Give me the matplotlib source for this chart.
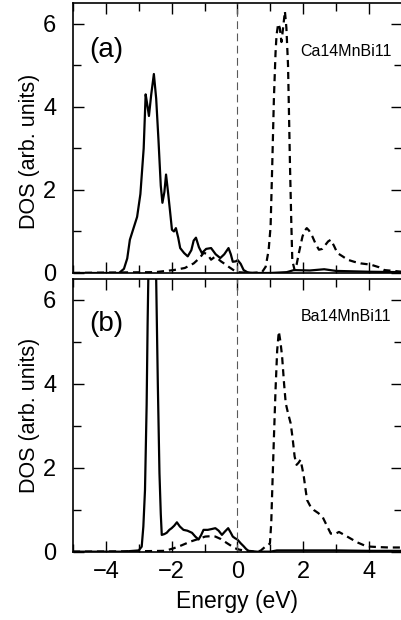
import numpy as np
import matplotlib.pyplot as plt
from matplotlib.ticker import MultipleLocator

plt.rcParams['font.family'] = ['Liberation Sans', 'DejaVu Sans']

# Ca14MnBi11: Mn d DOS, spin up (solid) and spin down (dashed)
ca_up_e = [-5.0, -3.6, -3.45, -3.35, -3.27, -3.15, -3.05, -2.95, -2.85, -2.79, -2.74, -2.69,
           -2.62, -2.54, -2.47, -2.40, -2.33, -2.28, -2.22, -2.17, -2.11, -2.05, -1.99, -1.93,
           -1.87, -1.80, -1.74, -1.62, -1.51, -1.40, -1.33, -1.26, -1.17, -1.08, -0.95, -0.80,
           -0.66, -0.52, -0.40, -0.27, -0.20, -0.14, -0.05, 0.01, 0.10, 0.19, 0.30, 0.45,
           1.0, 1.5, 1.72, 2.2, 2.64, 3.0, 4.0, 5.0]
ca_up_v = [0.0, 0.0, 0.1, 0.35, 0.8, 1.1, 1.35, 1.9, 3.0, 4.3, 4.05, 3.78,
           4.3, 4.79, 4.2, 3.2, 2.1, 1.69, 1.95, 2.37, 1.95, 1.5, 1.04, 1.0,
           1.08, 0.85, 0.6, 0.48, 0.40, 0.55, 0.78, 0.85, 0.62, 0.48, 0.58, 0.60,
           0.45, 0.36, 0.45, 0.60, 0.45, 0.27, 0.28, 0.31, 0.22, 0.07, 0.02, 0.0,
           0.0, 0.02, 0.07, 0.06, 0.09, 0.05, 0.03, 0.02]
ca_dn_e = [-5.0, -4.0, -2.5, -1.94, -1.6, -1.33, -1.15, -1.03, -0.95, -0.87, -0.80, -0.70,
           -0.60, -0.50, -0.35, -0.25, -0.10, 0.0, 0.4, 0.75, 0.86, 0.95, 1.01, 1.06,
           1.11, 1.16, 1.19, 1.24, 1.29, 1.34, 1.39, 1.445, 1.49, 1.54, 1.57, 1.60, 1.64,
           1.67, 1.74, 1.80, 1.87, 1.93, 1.98, 2.05, 2.11, 2.18, 2.28, 2.38, 2.48, 2.58,
           2.68, 2.76, 2.84, 2.94, 3.04, 3.2, 3.35, 3.55, 3.76, 4.06, 4.3, 4.47, 4.75, 5.0]
ca_dn_v = [0.0, 0.01, 0.02, 0.07, 0.12, 0.23, 0.36, 0.48, 0.47, 0.40, 0.32, 0.38,
           0.35, 0.28, 0.20, 0.14, 0.06, 0.02, 0.0, 0.02, 0.15, 0.55, 1.12, 2.6,
           4.19, 5.3, 5.72, 6.0, 5.9, 5.56, 5.9, 6.30, 5.9, 5.0, 3.8, 2.57, 1.2,
           0.3, 0.07, 0.2, 0.48, 0.70, 0.88, 1.02, 1.08, 1.02, 0.88, 0.70, 0.56, 0.58,
           0.68, 0.76, 0.80, 0.65, 0.48, 0.40, 0.32, 0.27, 0.23, 0.20, 0.14, 0.07, 0.05, 0.03]

# Ba14MnBi11
ba_up_e = [-5.0, -3.5, -3.0, -2.91, -2.86, -2.81, -2.76, -2.73, -2.68, -2.60, -2.52, -2.47,
           -2.42, -2.37, -2.33, -2.30, -2.22, -2.15, -2.07, -2.0, -1.92, -1.84, -1.75, -1.64,
           -1.52, -1.38, -1.28, -1.18, -1.10, -1.03, -0.90, -0.78, -0.67, -0.57, -0.47, -0.38,
           -0.28, -0.20, -0.14, -0.07, 0.0, 0.10, 0.19, 0.27, 0.34, 0.6, 1.0, 1.2, 2.0, 3.0,
           4.0, 5.0]
ba_up_v = [0.0, 0.0, 0.03, 0.12, 0.6, 1.47, 3.5, 5.45, 8.0, 9.0, 8.0, 6.5,
           4.0, 1.87, 0.9, 0.40, 0.42, 0.45, 0.52, 0.56, 0.62, 0.70, 0.60, 0.52,
           0.50, 0.45, 0.36, 0.29, 0.40, 0.52, 0.52, 0.54, 0.56, 0.50, 0.40, 0.48,
           0.56, 0.45, 0.36, 0.32, 0.29, 0.20, 0.13, 0.06, 0.02, 0.0, 0.0, 0.03, 0.03, 0.03,
           0.02, 0.02]
ba_dn_e = [-5.0, -3.0, -2.2, -1.94, -1.70, -1.43, -1.20, -0.98, -0.80, -0.67, -0.50, -0.31,
           -0.15, -0.07, 0.05, 0.25, 0.50, 0.70, 0.85, 0.93, 0.99, 1.03, 1.06, 1.11, 1.16,
           1.21, 1.26, 1.31, 1.36, 1.42, 1.47, 1.54, 1.62, 1.68, 1.74, 1.80, 1.86, 1.92,
           1.97, 2.02, 2.07, 2.12, 2.22, 2.33, 2.46, 2.59, 2.72, 2.84, 2.96, 3.09, 3.25,
           3.45, 3.65, 3.86, 4.05, 4.27, 4.6, 5.0]
ba_dn_v = [0.0, 0.01, 0.02, 0.08, 0.15, 0.24, 0.30, 0.36, 0.37, 0.36, 0.30, 0.20,
           0.12, 0.08, 0.05, 0.02, 0.0, 0.02, 0.12, 0.15, 0.20, 0.7, 1.47, 2.7, 3.86,
           4.8, 5.25, 5.0, 4.65, 4.0, 3.54, 3.3, 3.06, 2.7, 2.27, 2.07, 2.12, 2.19,
           2.0, 1.79, 1.5, 1.23, 1.08, 0.99, 0.92, 0.83, 0.62, 0.43, 0.42, 0.47, 0.40,
           0.31, 0.22, 0.15, 0.12, 0.11, 0.10, 0.10]

panels = [
    ('(a)', 'Ca14MnBi11', ca_up_e, ca_up_v, ca_dn_e, ca_dn_v, 5.2, 5.23, 0.45),
    ('(b)', 'Ba14MnBi11', ba_up_e, ba_up_v, ba_dn_e, ba_dn_v, 5.25, 5.5, 0.5),
]

fig = plt.figure(figsize=(4.01, 6.2), dpi=100)
boxes = [[0.182, 0.5597, 0.82, 0.4355], [0.182, 0.1102, 0.82, 0.4398]]

for box, (tag, name, ue, uv, de, dv, tag_y, name_y, lab_y) in zip(boxes, panels):
    ax = fig.add_axes(box)
    ax.plot(ue, uv, 'k-', lw=1.6)
    ax.plot(de, dv, 'k--', lw=1.6, dashes=(3.2, 2.2))
    ax.axvline(0, color='0.35', lw=0.8, dashes=(7, 4))
    ax.set_xlim(-5, 5)
    ax.set_ylim(0, 6.5)
    ax.xaxis.set_major_locator(MultipleLocator(2))
    ax.xaxis.set_minor_locator(MultipleLocator(1))
    ax.yaxis.set_major_locator(MultipleLocator(2))
    ax.yaxis.set_minor_locator(MultipleLocator(1))
    ax.tick_params(which='both', direction='in', top=True, right=True,
                   labelsize=17, width=1.0)
    ax.tick_params(which='major', length=8)
    ax.tick_params(which='minor', length=6)
    ax.tick_params(axis='y', which='major', pad=12)
    ax.tick_params(axis='x', which='major', pad=7)
    ax.set_yticks([0, 2, 4, 6])
    ax.set_yticklabels(['0', '2', '4', '6'])
    for s in ax.spines.values():
        s.set_linewidth(1.2)
    ax.set_ylabel('DOS (arb. units)', fontsize=15.5)
    ax.yaxis.set_label_coords(-0.10, lab_y)
    ax.text(-4.5, tag_y, tag, fontsize=20, ha='left', va='baseline')
    ax.text(1.92, name_y, name, fontsize=11.5, ha='left', va='baseline')
    if tag == '(a)':
        ax.tick_params(labelbottom=False)
    else:
        ax.set_xticks([-4, -2, 0, 2, 4])
        ax.set_xticklabels(['\u22124', '\u22122', '0', '2', '4'])
        ax.set_xlabel('Energy (eV)', fontsize=16.5, labelpad=5)

fig.savefig('out.png', dpi=100)
